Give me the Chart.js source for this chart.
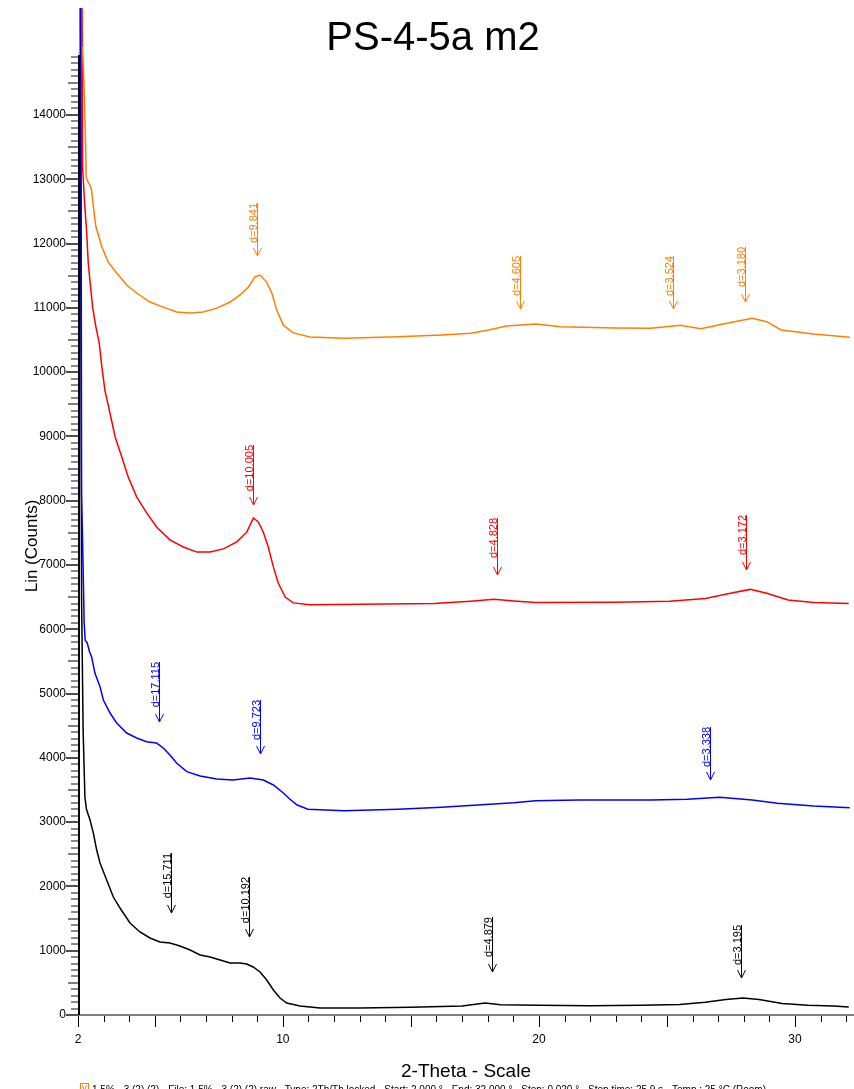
<!DOCTYPE html>
<html>
<head>
<meta charset="utf-8">
<script src="https://cdn.jsdelivr.net/npm/chart.js@4.4.1/dist/chart.umd.min.js"></script>
<style>
  html, body { margin: 0; padding: 0; background: #fff; }
  canvas { display: block; }
</style>
</head>
<body>
<canvas id="c" width="854" height="1089"></canvas>
<script>
// ---------- DATA ----------
const chartTitle = "PS-4-5a m2";
const xAxisTitle = "2-Theta - Scale";
const yAxisTitle = "Lin (Counts)";
const legendText = "1.5% - 3 (2) (2) - File: 1.5% - 3 (2) (2).raw - Type: 2Th/Th locked - Start: 2.000 ° - End: 32.000 ° - Step: 0.020 ° - Step time: 25.9 s - Temp.: 25 °C (Room)";

const xTickLabels = [2, 10, 20, 30];
const yTickLabels = [0, 1000, 2000, 3000, 4000, 5000, 6000, 7000, 8000, 9000, 10000, 11000, 12000, 13000, 14000];

// orange scan
const orangeTheta  = [2.18, 2.25, 2.30, 2.32, 2.40, 2.47, 2.53, 2.60, 2.70, 2.93, 3.18, 3.51, 3.90, 4.29, 4.81, 5.33, 5.85, 6.38, 6.89, 7.42, 7.94, 8.33, 8.65, 8.91, 9.11, 9.37, 9.57, 9.76, 10.02, 10.41, 11.06, 12.39, 14.5, 16.2, 17.33, 18.04, 18.74, 19.87, 20.86, 22.98, 24.38, 25.52, 26.32, 27.2, 28.33, 28.9, 29.46, 30.73, 32.14];
const orangeCounts = [15060, 14280, 13500, 13020, 12950, 12910, 12830, 12570, 12260, 11950, 11710, 11540, 11355, 11230, 11090, 11010, 10935, 10920, 10935, 10995, 11090, 11200, 11320, 11480, 11510, 11400, 11230, 10965, 10730, 10610, 10545, 10526, 10551, 10577, 10603, 10655, 10717, 10748, 10706, 10686, 10681, 10728, 10675, 10748, 10837, 10784, 10655, 10593, 10541];

// red scan
const redTheta  = [2.00, 2.15, 2.18, 2.25, 2.34, 2.40, 2.49, 2.57, 2.70, 2.83, 2.93, 3.05, 3.25, 3.45, 3.71, 3.96, 4.29, 4.68, 5.07, 5.59, 6.11, 6.64, 7.16, 7.68, 8.20, 8.59, 8.85, 9.04, 9.24, 9.43, 9.63, 9.82, 10.09, 10.41, 11.06, 13.1, 15.9, 17.33, 18.25, 19.02, 19.87, 22.98, 25.1, 26.5, 27.48, 28.25, 28.9, 29.73, 30.73, 32.1];
const redCounts = [16500, 16500, 13190, 12680, 12165, 11700, 11325, 11010, 10700, 10450, 10085, 9720, 9360, 8990, 8680, 8370, 8060, 7810, 7590, 7390, 7280, 7200, 7200, 7250, 7360, 7510, 7730, 7670, 7510, 7280, 6970, 6720, 6500, 6410, 6380, 6390, 6400, 6435, 6465, 6440, 6415, 6420, 6435, 6480, 6560, 6620, 6560, 6455, 6415, 6400];

// blue scan
const blueTheta  = [2.00, 2.11, 2.14, 2.19, 2.24, 2.28, 2.36, 2.45, 2.53, 2.66, 2.86, 2.99, 3.25, 3.51, 3.90, 4.29, 4.68, 5.07, 5.33, 5.59, 5.85, 6.25, 6.77, 7.42, 8.05, 8.72, 9.24, 9.63, 10.02, 10.28, 10.56, 10.98, 12.39, 14.5, 16.2, 17.61, 19.02, 19.87, 21.56, 24.38, 25.79, 27.06, 28.33, 29.32, 30.73, 32.14];
const blueCounts = [16500, 16500, 8100, 7150, 6100, 5830, 5790, 5650, 5573, 5318, 5106, 4899, 4697, 4542, 4386, 4308, 4251, 4230, 4153, 4044, 3920, 3785, 3718, 3671, 3655, 3686, 3655, 3578, 3453, 3355, 3266, 3200, 3178, 3200, 3230, 3266, 3302, 3333, 3344, 3344, 3355, 3386, 3344, 3293, 3251, 3225];

// black scan
const blackTheta  = [2.00, 2.08, 2.14, 2.20, 2.27, 2.33, 2.47, 2.60, 2.73, 2.86, 3.12, 3.38, 3.64, 4.03, 4.42, 4.81, 5.20, 5.59, 5.98, 6.38, 6.77, 7.16, 7.55, 7.94, 8.33, 8.59, 8.84, 9.11, 9.37, 9.63, 9.89, 10.15, 10.67, 11.45, 13.0, 15.0, 17.0, 17.9, 18.5, 20, 22, 24, 25.5, 26.5, 27.3, 27.97, 28.6, 29.5, 30.5, 31.5, 32.1];
const blackCounts = [16500, 16500, 6450, 4430, 3390, 3200, 3033, 2830, 2566, 2364, 2100, 1835, 1664, 1431, 1291, 1198, 1135, 1120, 1073, 1011, 933, 902, 855, 809, 809, 793, 747, 669, 544, 389, 264, 187, 140, 109, 109, 120, 140, 187, 160, 150, 145, 150, 165, 200, 240, 264, 240, 180, 150, 140, 125];

// peak markers (2-theta, label, arrow top counts, arrow tip counts)
const orangePeakTheta = [8.98, 19.26, 25.25, 28.04];
const orangePeakLabel = ["d=9.841", "d=4.605", "d=3.524", "d=3.180"];
const orangePeakTop   = [12630, 11806, 11806, 11946];
const orangePeakTip   = [11806, 10981, 10981, 11090];

const redPeakTheta = [8.83, 18.36, 28.10];
const redPeakLabel = ["d=10.005", "d=4.828", "d=3.172"];
const redPeakTop   = [8866, 7731, 7777];
const redPeakTip   = [7933, 6844, 6922];

const bluePeakTheta = [5.16, 9.09, 26.68];
const bluePeakLabel = ["d=17.115", "d=9.723", "d=3.338"];
const bluePeakTop   = [5491, 4900, 4480];
const bluePeakTip   = [4557, 4060, 3655];

const blackPeakTheta = [5.62, 8.67, 18.17, 27.90];
const blackPeakLabel = ["d=15.711", "d=10.192", "d=4.879", "d=3.195"];
const blackPeakTop   = [2520, 2147, 1524, 1400];
const blackPeakTip   = [1587, 1213, 669, 575];

// ---------- BUILD ----------
const COL = { orange: "#FF8000", red: "#FF0000", blue: "#0000FF", black: "#000000" };
const zip = (xs, ys) => xs.map((x, i) => ({ x: x, y: ys[i] }));

const series = [
  { color: COL.orange, theta: orangeTheta, counts: orangeCounts, pk: [orangePeakTheta, orangePeakLabel, orangePeakTop, orangePeakTip] },
  { color: COL.red,    theta: redTheta,    counts: redCounts,    pk: [redPeakTheta, redPeakLabel, redPeakTop, redPeakTip] },
  { color: COL.blue,   theta: blueTheta,   counts: blueCounts,   pk: [bluePeakTheta, bluePeakLabel, bluePeakTop, bluePeakTip] },
  { color: COL.black,  theta: blackTheta,  counts: blackCounts,  pk: [blackPeakTheta, blackPeakLabel, blackPeakTop, blackPeakTip] }
];

const FONT = '"Liberation Sans", Arial, sans-serif';

const decorPlugin = {
  id: 'decor',
  beforeDatasetsDraw(chart) {
    const ctx = chart.ctx, xs = chart.scales.x, ys = chart.scales.y;
    const ca = chart.chartArea;
    ctx.save();
    // x axis line
    ctx.fillStyle = '#808080';
    ctx.fillRect(66, ca.bottom - 1, chart.width - 66, 2);
    // x ticks
    ctx.fillStyle = '#000';
    for (let v = 2; v <= 32; v++) {
      const px = Math.round(xs.getPixelForValue(v));
      const len = (v === 2 || v % 5 === 0) ? 11 : 6;
      ctx.fillRect(px, ca.bottom + 1, 1, len);
    }
    // y ticks
    for (let v = 0; v <= 14900; v += 100) {
      const py = Math.round(ys.getPixelForValue(v));
      let len, col;
      if (v % 1000 === 0) { len = 12; col = '#505050'; }
      else if (v % 500 === 0) { len = 10; col = '#808080'; }
      else { len = 7; col = '#8a8a8a'; }
      ctx.fillStyle = col;
      ctx.fillRect(ca.left - len, py - 1, len, 2);
    }
    // y axis line
    const yTop = Math.round(ys.getPixelForValue(14900)) - 2;
    ctx.fillStyle = '#000';
    ctx.fillRect(ca.left, yTop, 2, ca.bottom - yTop);
    ctx.restore();
  },
  afterDraw(chart) {
    const ctx = chart.ctx, xs = chart.scales.x, ys = chart.scales.y;
    ctx.save();
    // peak markers
    ctx.font = '11px ' + FONT;
    series.forEach(s => {
      const [th, lab, top, tip] = s.pk;
      ctx.strokeStyle = s.color;
      ctx.fillStyle = s.color;
      ctx.lineWidth = 1;
      th.forEach((t, i) => {
        const x = Math.round(xs.getPixelForValue(t)) + 0.5;
        const y0 = ys.getPixelForValue(top[i]);
        const y1 = ys.getPixelForValue(tip[i]);
        ctx.beginPath();
        ctx.moveTo(x, y0); ctx.lineTo(x, y1);
        ctx.moveTo(x - 4, y1 - 8); ctx.lineTo(x, y1); ctx.lineTo(x + 4, y1 - 8);
        ctx.stroke();
        ctx.save();
        ctx.translate(x - 1, y0);
        ctx.rotate(-Math.PI / 2);
        ctx.textAlign = 'right';
        ctx.textBaseline = 'alphabetic';
        ctx.fillText(lab[i], 0, 0);
        ctx.restore();
      });
    });
    // title
    ctx.fillStyle = '#000';
    ctx.font = '40px ' + FONT;
    ctx.textAlign = 'center';
    ctx.textBaseline = 'alphabetic';
    ctx.fillText(chartTitle, 433, 50);
    // x axis title
    ctx.font = '19px ' + FONT;
    ctx.fillText(xAxisTitle, 466, 1077);
    // y axis title
    ctx.save();
    ctx.translate(37, 546);
    ctx.rotate(-Math.PI / 2);
    ctx.font = '17px ' + FONT;
    ctx.fillText(yAxisTitle, 0, 0);
    ctx.restore();
    // legend line (cut off at bottom like the reference)
    ctx.strokeStyle = COL.orange;
    ctx.lineWidth = 1;
    ctx.strokeRect(80.5, 1083.5, 8, 9);
    ctx.beginPath();
    ctx.moveTo(82.5, 1085); ctx.lineTo(84.5, 1091); ctx.lineTo(86.5, 1085);
    ctx.stroke();
    ctx.font = '10px ' + FONT;
    ctx.textAlign = 'left';
    ctx.fillStyle = '#000';
    ctx.fillText(legendText, 92, 1093);
    ctx.restore();
  }
};

new Chart(document.getElementById('c'), {
  type: 'line',
  data: {
    datasets: series.map(s => ({
      data: zip(s.theta, s.counts),
      borderColor: s.color,
      borderWidth: 1.5,
      pointRadius: 0,
      tension: 0,
      fill: false
    }))
  },
  options: {
    responsive: false,
    animation: false,
    devicePixelRatio: 1,
    layout: { padding: { top: 8, right: 4, left: 0, bottom: 0 } },
    plugins: { legend: { display: false }, tooltip: { enabled: false }, title: { display: false } },
    scales: {
      x: {
        type: 'linear',
        min: 2, max: 32.15,
        border: { display: false },
        grid: { display: false, drawTicks: false },
        afterBuildTicks: sc => { sc.ticks = xTickLabels.map(v => ({ value: v })); },
        afterFit: sc => { sc.height = 74; sc.paddingLeft = 0; sc.paddingRight = 0; sc.paddingTop = 0; sc.paddingBottom = 0; },
        ticks: { color: '#000', padding: 17, maxRotation: 0, autoSkip: false, font: { family: FONT, size: 12 }, callback: v => String(v) }
      },
      y: {
        type: 'linear',
        min: 0, max: 15663,
        border: { display: false },
        grid: { display: false, drawTicks: false },
        afterBuildTicks: sc => { sc.ticks = yTickLabels.map(v => ({ value: v })); },
        afterFit: sc => { sc.width = 78; sc.paddingTop = 0; sc.paddingBottom = 0; sc.paddingLeft = 0; sc.paddingRight = 0; },
        ticks: { color: '#000', padding: 12, autoSkip: false, font: { family: FONT, size: 12 }, callback: v => String(v) }
      }
    }
  },
  plugins: [decorPlugin]
});
</script>
</body>
</html>
